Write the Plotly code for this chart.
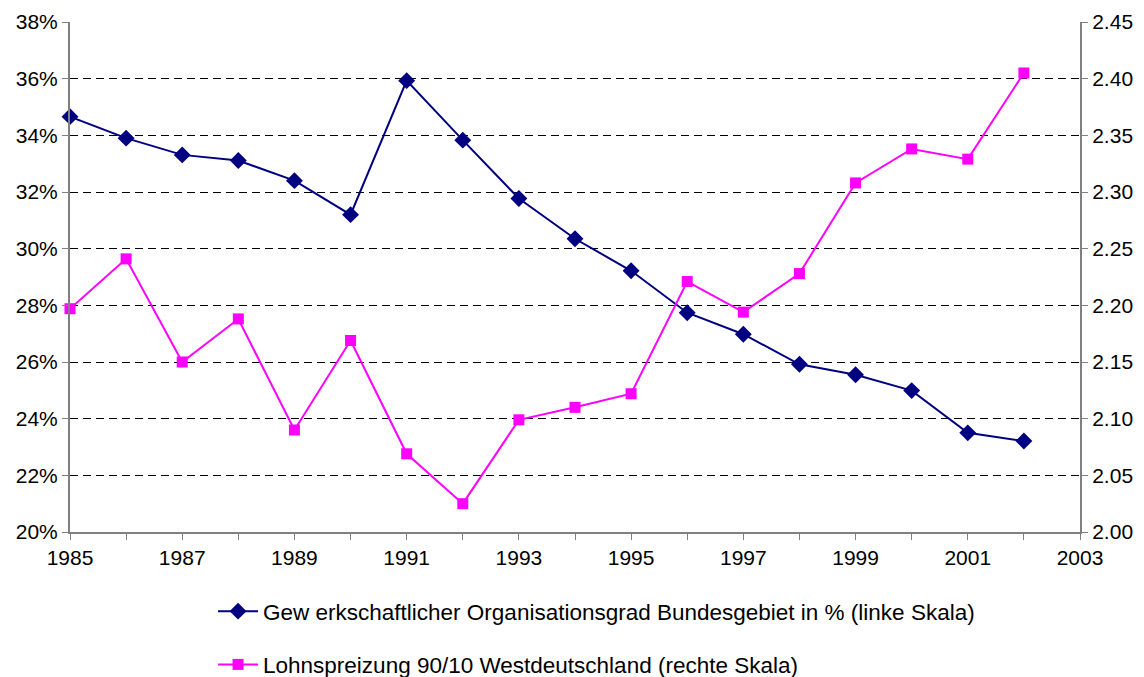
import plotly.graph_objects as go

years = list(range(1985, 2003))
organisationsgrad = [34.66, 33.9, 33.31, 33.11, 32.4, 31.2, 35.93, 33.83, 31.77, 30.35,
                     29.22, 27.74, 26.98, 25.92, 25.55, 24.99, 23.5, 23.21]
lohnspreizung = [2.197, 2.241, 2.150, 2.188, 2.090, 2.169, 2.069, 2.025, 2.099, 2.110,
                 2.122, 2.221, 2.194, 2.228, 2.308, 2.338, 2.329, 2.405]

name1 = "Gew erkschaftlicher Organisationsgrad Bundesgebiet in % (linke Skala)"
name2 = "Lohnspreizung 90/10 Westdeutschland (rechte Skala)"

font = "Liberation Sans, Arial, sans-serif"

fig = go.Figure()
fig.add_trace(go.Scatter(
    x=years, y=organisationsgrad, name=name1, mode="lines+markers",
    line=dict(color="#000080", width=2),
    marker=dict(symbol="diamond", size=13, color="#000080"),
    cliponaxis=False, legendgroup="a", yaxis="y"))
fig.add_trace(go.Scatter(
    x=years, y=lohnspreizung, name=name2, mode="lines+markers",
    line=dict(color="#FF00FF", width=2),
    marker=dict(symbol="square", size=11, color="#FF00FF"),
    cliponaxis=False, legendgroup="b", yaxis="y2"))

fig.update_layout(
    width=1136, height=669,
    paper_bgcolor="white", plot_bgcolor="white",
    margin=dict(l=62, r=64, t=14, b=145, autoexpand=False),
    font=dict(family=font, size=21, color="black"),
    xaxis=dict(range=[1985, 2003], dtick=2, tick0=1985, showgrid=False,
               showline=True, linecolor="#808080", linewidth=2,
               ticks="outside", ticklen=6, tickcolor="#808080",
               minor=dict(dtick=1, ticks="outside", ticklen=6, tickcolor="#808080"),
               zeroline=False),
    yaxis=dict(range=[20, 38], dtick=2, ticksuffix="%", showgrid=True,
               gridcolor="black", griddash="8px,5px", gridwidth=1,
               showline=True, linecolor="#808080", linewidth=2,
               ticks="outside", ticklen=6, tickcolor="#808080", zeroline=False),
    yaxis2=dict(range=[2.0, 2.45], dtick=0.05, tickformat=".2f", overlaying="y",
                side="right", showgrid=False, showline=True, linecolor="#808080",
                linewidth=2, ticks="outside", ticklen=6, tickcolor="#808080",
                zeroline=False),
    legend=dict(orientation="v", xref="container", yref="container",
                x=0.1805, xanchor="left", y=0.130, yanchor="top",
                font=dict(size=22.5), tracegroupgap=21, itemwidth=40),
)

fig.write_html("out.html")
